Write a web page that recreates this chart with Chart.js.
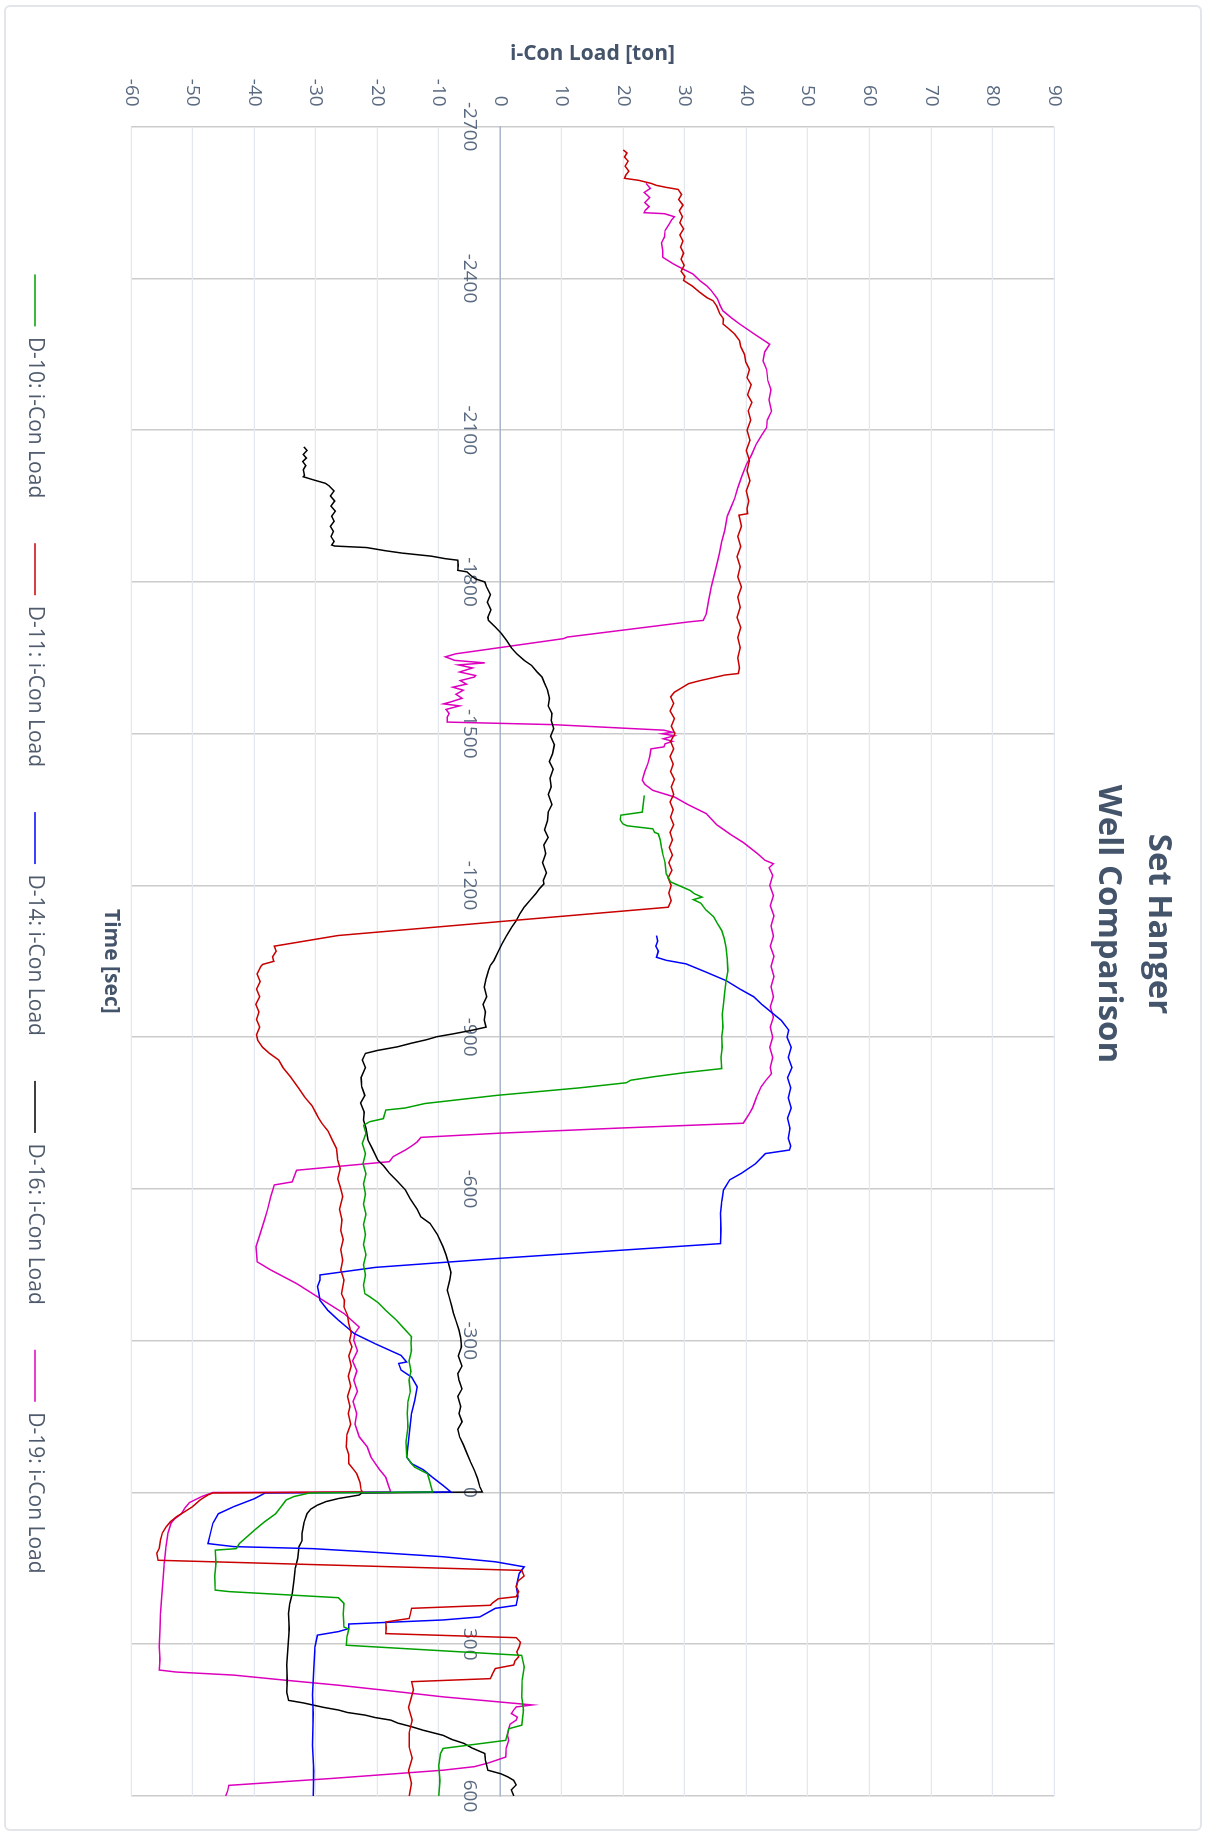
<!DOCTYPE html>
<html>
<head>
<meta charset="utf-8">
<script src="https://cdn.jsdelivr.net/npm/chart.js@4.4.1/dist/chart.umd.min.js"></script>
<style>
html, body { margin: 0; padding: 0; background: #fff; overflow: hidden; width: 1208px; height: 1836px; }
#girado { position: absolute; left: 0; top: 0; width: 1836px; height: 1208px; transform-origin: 0 0; transform: translate(1208px, 0) rotate(90deg); }
#marco { position: absolute; left: 5px; top: 6px; width: 1826px; height: 1198px; box-sizing: border-box; border: 2px solid #e2e5ea; border-radius: 6px; }
#grafica { position: absolute; left: 0; top: 0; width: 1836px; height: 1208px; }
</style>
</head>
<body>
<div id="girado">
  <div id="marco"></div>
  <canvas id="grafica" width="1836" height="1208"></canvas>
</div>
<script>
// datos (tiempo en seg, carga en ton)
var nombres_series = ["D-10: i-Con Load", "D-11: i-Con Load", "D-14: i-Con Load", "D-16: i-Con Load", "D-19: i-Con Load"]
var colores_series = ["#00a000", "#c80000", "#0000ff", "#000000", "#dc00be"]

var tiempo_d10 = [-1378,-1365,-1345,-1339,-1330,-1322,-1318,-1312,-1305,-1302,-1290,-1275,-1263,-1245,-1223,-1207,-1198,-1190,-1184,-1177,-1172,-1165,-1152,-1138,-1125,-1111,-1095,-1078,-1055,-1032,-1010,-990,-966,-945,-920,-901,-880,-860,-838,
  -830,-822,-815,-810,-800,-785,-769,-760,-756,-739,-733,-726,
  -710,-690,-670,-650,-630,-610,-590,-570,-550,-530,-510,-490,-470,-450,-430,-410,-393,
  -387,-375,-360,-341,-325,-308,-295,-280,-260,-240,-222,-200,-180,-156,-130,-100,-70,-57,-50,-37,-20,-1,
  1,8,15,28,42,58,74,88,101,111,114,140,165,193,196,208,219,240,266,270,285,302,322,345,370,404,430,460,467,490,506,516,540,570,600]
var carga_d10 = [23.4,23.3,23.1,19.6,19.5,19.9,20.6,24.8,25.1,25.7,26.0,26.2,26.4,26.8,27.0,27.7,29.4,30.9,31.5,32.8,31.4,32.6,33.4,34.7,35.3,36.0,36.4,36.7,36.9,37.0,36.7,36.5,36.3,36.1,36.2,36.0,36.1,35.9,36.0,
  30.0,25.0,21.2,20.5,13.0,-0.6,-12.2,-15.5,-18.6,-19.0,-21.2,-22.2,
  -21.8,-22.4,-21.9,-22.3,-21.8,-22.2,-21.9,-22.2,-21.8,-22.2,-21.9,-22.2,-21.8,-22.2,-21.9,-22.2,-22.0,
  -21.2,-19.8,-18.6,-16.9,-15.7,-14.4,-14.5,-14.4,-14.8,-14.5,-14.8,-14.6,-15.0,-15.1,-15.0,-15.3,-15.2,-14.4,-13.9,-11.8,-11.4,-11.0,
  -31.0,-33.5,-34.8,-35.6,-36.5,-38.3,-39.9,-41.2,-42.4,-42.9,-46.3,-46.2,-46.4,-46.3,-44.0,-26.3,-25.4,-25.5,-25.4,-24.6,-24.9,-25.0,3.5,3.9,3.6,3.5,3.8,3.5,1.4,0.9,-9.3,-9.7,-10.0,-9.8,-10.0]

var tiempo_d11 = [-2654,-2648,-2640,-2632,-2622,-2612,-2604,-2598,
  -2594,-2588,-2584,-2580,-2576,
  -2566,-2556,-2545,-2534,-2522,-2510,-2498,-2486,-2474,-2462,-2450,-2438,-2426,-2414,-2404,
  -2396,-2385,-2373,-2362,-2356,-2345,-2330,-2320,-2310,-2300,-2290,-2277,-2265,-2250,-2235,-2220,-2204,-2190,-2170,-2155,-2138,-2120,-2100,-2080,-2060,-2040,-2020,-2000,-1980,-1960,-1945,
  -1935,-1932,-1910,-1890,-1870,-1850,-1830,-1810,-1790,-1770,-1750,-1730,-1710,-1690,-1670,-1650,-1630,-1619,
  -1616,-1605,-1599,-1590,-1582,-1573,
  -1560,-1545,-1530,-1515,-1500,-1485,-1470,-1455,-1440,-1425,-1410,-1395,-1380,-1365,-1350,-1335,-1320,-1305,-1290,-1275,-1260,-1245,-1230,-1215,-1200,-1185,-1170,-1157,
  -1128,-1101,-1080,-1070,-1059,-1050,-1044,-1040,
  -1025,-1010,-995,-980,-965,-950,-935,-920,-905,-894,
  -880,-868,-855,-840,-822,-800,-782,-765,-749,-740,-730,-715,-697,-680,-657,-640,-620,-604,-585,-560,-539,
  -518,-500,-480,-459,-440,-420,-393,-380,-367,-350,-334,-315,-300,-288,-270,-250,-230,-210,-190,-170,-156,-135,-115,-90,-75,-57,-45,-37,-20,-5,-1,
  1,5,15,28,38,48,58,68,80,94,110,120,134,
  154,165,175,186,196,206,210,218,223,229,240,249,256,268,279,287,296,305,315,325,333,341,348,360,368,374,390,404,425,450,475,503,525,550,575,600]
var carga_d11 = [20.0,20.6,20.2,20.8,20.3,20.9,20.4,20.2,
  22.5,24.5,25.4,27.0,28.9,
  29.5,29.0,29.7,29.1,29.6,29.2,29.8,29.2,29.7,29.3,29.8,29.4,29.9,29.4,30.0,
  29.8,31.2,32.4,33.6,34.6,35.2,35.7,36.3,36.2,37.2,38.1,38.9,39.1,39.7,39.9,40.5,40.1,40.8,40.2,40.9,40.3,40.7,40.1,40.6,40.0,40.5,40.1,40.6,40.0,40.4,40.1,
  40.2,38.8,39.2,38.6,39.1,38.5,39.0,38.6,39.2,38.6,39.0,38.5,39.1,38.6,39.0,38.6,38.9,38.7,
  36.5,32.5,30.6,29.4,28.3,27.7,
  28.2,27.6,28.3,27.8,28.4,27.7,28.2,27.6,28.1,27.7,28.3,27.8,28.2,27.6,28.1,27.7,28.2,27.6,28.0,27.5,28.0,27.4,27.9,27.3,27.8,27.4,27.8,27.3,
  -0.6,-26.4,-36.7,-36.4,-37.0,-36.8,-38.6,-38.9,
  -39.5,-39.0,-39.6,-39.1,-39.7,-39.2,-39.6,-39.1,-39.6,-39.4,
  -38.6,-37.5,-36.0,-35.3,-34.1,-32.8,-31.8,-30.6,-29.9,-29.5,-29.0,-28.0,-27.3,-26.6,-26.4,-26.0,-26.4,-26.0,-25.6,-26.1,-25.7,
  -25.9,-25.5,-25.9,-25.6,-25.9,-25.4,-25.8,-25.3,-25.4,-24.8,-24.6,-24.2,-24.5,-24.1,-24.6,-24.2,-24.7,-24.3,-24.8,-24.4,-24.7,-24.3,-24.9,-25.0,-24.6,-24.6,-23.8,-23.3,-22.8,-22.6,-22.4,
  -46.7,-47.5,-48.8,-50.0,-51.3,-52.6,-53.6,-54.3,-54.9,-55.2,-55.4,-55.8,-55.6,
  3.5,3.9,2.9,2.6,3.0,2.6,-0.3,-1.2,-1.6,-14.4,-14.6,-14.8,-18.6,-18.5,-18.6,2.6,3.3,3.1,2.7,3.0,2.4,2.2,-0.8,-1.3,-1.6,-14.4,-14.1,-14.4,-14.9,-14.3,-14.8,-14.8,-14.3,-14.9,-14.4,-14.8]

var tiempo_d14 = [-1101,-1090,-1080,-1070,-1058,-1052,-1045,-1030,-1012,-995,-980,-965,-950,-933,-914,-900,-880,-860,-840,-820,-800,-780,-760,-740,-720,-700,-685,-677,
  -670,-650,-631,-618,-598,-575,-552,-520,-492,
  -463,-445,-430,-420,-407,-395,-380,-360,-341,-314,-294,-271,-258,-255,-242,-228,-209,-182,-156,-116,-70,-57,-45,-30,-14,-1,
  1,12,28,42,61,81,101,107,111,117,127,137,147,160,186,205,223,229,246,252,260,269,275,282,305,350,400,437,500,550,600]
var carga_d14 = [25.4,25.6,25.3,25.7,25.4,27.0,30.2,33.2,36.7,39.0,41.2,42.5,44.0,45.7,46.9,46.6,47.3,46.8,47.4,46.7,47.2,46.8,47.3,46.7,47.1,46.8,47.2,47.0,
  43.1,41.5,39.2,37.3,36.3,36.0,35.8,35.9,35.8,
  0.0,-20.3,-29.3,-29.3,-29.7,-29.5,-29.3,-28.0,-26.3,-23.7,-20.3,-16.1,-15.2,-16.5,-16.1,-14.4,-13.5,-13.9,-14.4,-14.8,-15.2,-14.4,-12.5,-11.0,-9.3,-8.0,
  -38.2,-39.9,-43.3,-45.8,-46.7,-47.1,-47.5,-43.3,-30.5,-22.0,-9.3,-0.8,3.9,3.1,2.6,2.9,2.6,-0.8,-3.3,-9.3,-24.6,-24.6,-26.3,-29.7,-30.1,-30.3,-30.5,-30.4,-30.5,-30.3,-30.4]

var tiempo_d16 = [-2067,-2060,-2052,-2045,-2038,-2030,-2022,-2011,
  -2008,-2002,-1995,-1990,
  -1980,-1970,-1960,-1950,-1940,-1930,-1920,-1910,-1900,-1890,-1880,-1873,
  -1871,-1868,-1862,-1857,-1851,-1846,-1843,-1833,-1823,-1820,-1813,-1806,-1800,-1790,-1775,-1760,-1745,-1730,-1724,-1711,-1698,-1685,-1670,-1658,-1645,-1635,-1622,-1612,-1600,-1586,-1570,-1555,-1540,-1526,-1510,-1495,-1478,-1460,-1445,-1430,-1412,-1395,-1380,-1360,-1345,-1328,-1310,-1295,-1280,-1263,-1245,-1225,-1210,-1203,
  -1194,-1184,-1170,-1157,-1144,-1130,-1118,-1100,-1085,-1070,-1052,-1042,-1032,-1015,-999,-980,-965,-950,-934,-920,
  -914,-907,-901,-895,-888,-881,-874,-868,
  -855,-840,-820,-802,-785,-770,-752,-736,-720,-697,-680,-657,-645,-631,-615,-598,-580,-560,-545,-532,-510,-486,-470,-453,-435,-420,-400,-387,-370,-354,-340,-321,-305,-288,-270,-250,-235,-222,-205,-190,-170,-156,-140,-125,-110,-95,-77,-60,-44,-28,-11,-1,
  1,5,12,18,25,33,42,60,81,95,107,130,150,173,200,220,239,270,305,340,371,395,411,416,420,425,430,435,440,445,450,456,463,470,480,488,496,505,516,530,549,556,562,569,578,588,600]
var carga_d16 = [-31.9,-31.4,-32.0,-31.5,-32.1,-31.6,-32.0,-31.8,
  -32.0,-30.4,-28.4,-27.8,
  -27.0,-27.6,-26.9,-27.5,-26.8,-27.4,-27.0,-27.6,-27.1,-27.5,-27.0,-27.4,
  -26.9,-21.7,-18.8,-15.9,-11.2,-8.9,-6.9,-6.8,-6.9,-5.4,-4.8,-4.0,-2.5,-2.2,-1.6,-2.1,-1.5,-2.0,-1.9,-0.8,0.2,1.0,1.8,2.7,3.9,5.1,6.0,6.8,7.2,7.7,8.0,7.8,8.4,8.3,8.7,8.2,8.8,8.5,8.0,8.6,8.1,8.3,7.8,8.4,7.8,7.7,7.2,7.8,7.1,7.4,6.9,7.5,7.0,7.1,
  6.4,5.8,4.8,3.9,3.2,2.6,1.9,1.0,0.3,-0.3,-1.0,-1.6,-1.9,-2.3,-2.6,-2.2,-2.8,-2.4,-2.6,-2.3,
  -4.5,-7.5,-10.3,-12.0,-14.5,-16.7,-19.9,-21.9,
  -22.4,-21.9,-22.6,-22.5,-22.0,-22.7,-22.1,-22.2,-21.8,-21.5,-20.8,-19.9,-18.9,-18.0,-16.7,-15.4,-14.6,-13.5,-12.9,-11.4,-10.2,-9.3,-8.8,-8.4,-8.0,-8.2,-8.6,-8.3,-7.9,-7.6,-7.2,-6.7,-6.4,-6.3,-6.8,-6.2,-6.9,-6.7,-6.2,-6.9,-6.4,-6.7,-6.2,-6.9,-6.6,-6.0,-5.4,-4.8,-4.2,-3.7,-3.3,-2.9,
  -22.5,-22.9,-26.3,-28.3,-29.7,-30.8,-31.4,-31.9,-32.2,-32.2,-32.7,-32.9,-33.3,-33.5,-33.8,-34.2,-34.4,-34.3,-34.5,-34.7,-34.6,-34.7,-34.4,-32.0,-30.5,-28.6,-26.3,-24.8,-22.0,-20.3,-17.8,-16.6,-14.4,-12.5,-9.3,-7.9,-5.9,-4.6,-2.5,-2.4,-2.0,0.1,1.2,2.2,2.6,1.8,2.2]

var tiempo_d19 = [-2588,-2578,-2570,-2560,-2550,-2542,-2535,-2530,
  -2528,-2522,-2515,-2508,-2495,-2482,-2470,-2455,-2442,
  -2429,-2418,-2409,-2395,-2385,-2376,-2360,-2345,-2336,-2322,-2310,-2290,-2270,
  -2255,-2237,-2220,-2198,-2180,-2160,-2138,-2120,-2105,-2090,-2072,-2050,-2032,-2010,-1986,-1965,-1950,-1930,-1902,-1880,-1855,-1830,-1810,-1790,-1765,-1737,-1724,
  -1721,-1691,-1688,-1665,-1658,
  -1652,-1645,-1640,-1636,-1630,-1622,-1615,-1612,-1605,-1598,-1592,-1586,-1578,-1570,-1563,-1559,-1555,-1548,-1540,-1533,-1523,
  -1518,-1507,
  -1503,-1500,-1496,-1490,-1485,-1480,-1474,
  -1470,-1455,-1441,-1425,-1408,-1400,-1388,-1375,-1360,-1342,-1320,-1302,-1285,-1263,-1250,-1243,-1235,
  -1220,-1200,-1180,-1160,-1140,-1120,-1100,-1080,-1060,-1040,-1020,-1000,-980,-960,-940,-920,-900,-880,-860,-840,-828,
  -815,-802,-780,-760,-749,-730,
  -720,-710,-702,-693,-685,-677,-664,-654,-637,-614,-608,-585,-560,-539,-512,-486,-456,-440,-413,-387,-354,-327,-315,-301,-280,-260,-240,-222,-200,-180,-156,-135,-110,-90,-70,-57,-45,-30,-15,-1,
  0,8,20,30,42,52,61,80,107,140,173,205,239,270,305,330,351,355,361,371,381,392,404,412,420,424,430,437,444,450,458,467,480,490,505,523,535,542,549,565,579,590,600]
var carga_d19 = [23.7,24.4,23.4,24.3,23.5,24.2,23.6,23.4,
  26.7,28.3,27.8,27.5,26.8,26.7,26.2,26.4,26.4,
  28.1,29.8,31.3,32.5,33.6,34.3,35.3,35.8,36.2,37.6,38.9,41.3,43.8,
  43.0,42.7,43.3,43.5,44.0,43.7,44.1,43.4,43.3,42.5,41.6,40.8,40.0,39.3,38.6,38.1,37.6,36.9,36.5,36.0,35.6,35.1,34.7,34.3,33.9,33.5,33.0,
  30.6,10.9,10.3,-3.1,-7.2,
  -8.9,-7.4,-2.5,-6.8,-4.5,-6.6,-4.0,-4.2,-6.5,-5.5,-7.7,-6.0,-7.2,-6.2,-8.0,-9.2,-6.6,-8.8,-8.3,-8.6,-8.6,
  8.5,26.6,
  28.0,26.3,28.3,26.5,28.0,26.8,26.6,
  24.5,24.3,24.0,23.5,23.1,23.5,24.8,28.3,30.5,33.5,35.2,37.3,39.5,41.8,43.0,44.4,43.7,
  44.3,43.8,44.4,43.9,44.5,44.0,44.4,43.9,44.5,44.0,44.5,44.0,44.4,43.9,44.4,43.9,44.3,43.8,44.3,43.9,44.1,
  43.2,42.4,41.6,41.0,40.5,39.5,
  18.6,-0.6,-12.9,-13.5,-14.4,-15.4,-17.4,-18.0,-33.1,-33.8,-36.7,-37.3,-37.8,-38.3,-39.0,-39.7,-39.5,-37.3,-33.1,-29.7,-25.4,-22.9,-23.6,-23.8,-23.2,-24.0,-23.3,-23.8,-23.2,-23.9,-23.3,-23.6,-22.9,-21.6,-21.0,-20.3,-19.6,-18.6,-18.2,-17.8,
  -46.7,-48.5,-50.5,-51.2,-51.8,-52.9,-53.5,-54.0,-54.3,-54.6,-54.8,-55.0,-55.2,-55.3,-55.4,-55.3,-55.4,-52.6,-43.3,-35.0,-26.3,-18.0,-9.3,-2.0,5.2,2.6,2.2,1.8,2.8,2.6,1.6,1.4,1.2,1.4,1.0,0.9,-2.0,-4.2,-9.3,-27.0,-44.1,-44.3,-44.6]

var tiempos = [tiempo_d10, tiempo_d11, tiempo_d14, tiempo_d16, tiempo_d19]
var cargas = [carga_d10, carga_d11, carga_d14, carga_d16, carga_d19]

var color_texto = "#44546a"
var color_ticks = "#5a6a80"
Chart.defaults.font.family = "'Open Sans', sans-serif"

function crear_dataset(i) {
    var puntos = tiempos[i].map(function (t, j) { return { x: t, y: cargas[i][j] } })
    return {
        label: nombres_series[i],
        data: puntos,
        borderColor: colores_series[i],
        backgroundColor: colores_series[i],
        borderWidth: 1.5,
        pointRadius: 0,
        tension: 0,
        fill: false,
        xAxisID: "x",
        yAxisID: "y"
    }
}

// numeros sin separador de miles
function etiqueta_simple(valor) {
    return String(valor)
}

var datasets = []
for (var i = 0; i < nombres_series.length; i++) datasets.push(crear_dataset(i))

var grafica = new Chart(document.getElementById("grafica"), {
    type: "line",
    data: { datasets: datasets },
    options: {
        responsive: false,
        animation: false,
        layout: { padding: { left: 52, right: 40, top: 0, bottom: 14.5 } },
        plugins: {
            title: {
                display: true,
                text: ["Set Hanger", "Well Comparison"],
                color: color_texto,
                font: { size: 33, weight: "bold", lineHeight: 1.5 },
                padding: { top: 25, bottom: 30 }
            },
            legend: {
                position: "bottom",
                labels: {
                    usePointStyle: true,
                    pointStyle: "line",
                    pointStyleWidth: 52,
                    padding: 45,
                    color: "#4f5b6c",
                    font: { size: 21 }
                }
            },
            tooltip: { enabled: false }
        },
        scales: {
            x: {
                type: "linear",
                position: { y: 0 },
                min: -2700, max: 600,
                ticks: { stepSize: 300, color: color_ticks, font: { size: 19 }, padding: 19, maxRotation: 0, autoSkip: false, callback: etiqueta_simple },
                grid: { color: "#cbcbcb", lineWidth: 1.5, drawTicks: false },
                border: { display: true, color: "#a8b6cc", width: 1.5 }
            },
            x2: {
                type: "linear",
                position: "bottom",
                min: -2700, max: 600,
                ticks: { display: false },
                grid: { display: false, drawTicks: false },
                border: { display: false },
                title: { display: true, text: "Time [sec]", color: color_texto, font: { size: 21, weight: "bold" }, padding: { top: 0, bottom: 7.9 } },
                afterFit: function (escala) { escala.height = 40.5 }
            },
            y: {
                type: "linear",
                position: "left",
                min: -60, max: 90,
                ticks: { stepSize: 10, color: color_ticks, font: { size: 19 }, padding: 20, callback: etiqueta_simple },
                grid: { color: "#e3e7ef", lineWidth: 1.2, drawTicks: false },
                border: { display: false },
                title: { display: true, text: "i-Con Load [ton]", color: color_texto, font: { size: 21, weight: "bold" }, padding: { top: -10.6, bottom: 0 } },
                afterFit: function (escala) { escala.width = 74.7 }
            }
        }
    }
})
</script>
</body>
</html>
